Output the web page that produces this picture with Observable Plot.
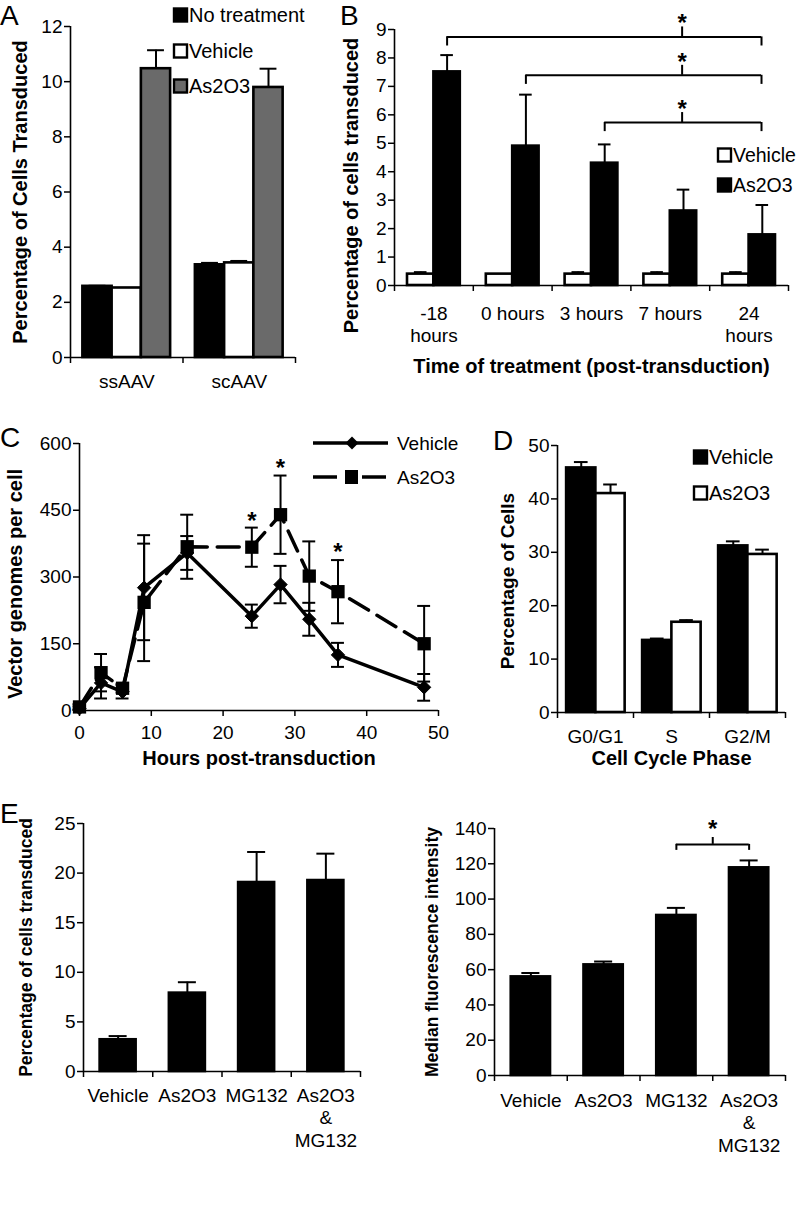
<!DOCTYPE html>
<html><head><meta charset="utf-8">
<script src="https://cdn.jsdelivr.net/npm/d3@7"></script>
<script src="https://cdn.jsdelivr.net/npm/@observablehq/plot@0.6"></script>
<style>
html,body{margin:0;padding:0;background:#fff}
#fig{position:relative;width:800px;height:1218px;overflow:hidden;background:#fff}
#fig svg{position:absolute;overflow:visible}
</style></head><body><div id="fig"></div><script>
// ---------------- Panel A ----------------
const aCategories = ["ssAAV", "scAAV"];
const aSeries = ["No treatment", "Vehicle", "As2O3"];
const aNoTreatment = [2.58, 3.36];
const aNoTreatmentErr = [0.02, 0.07];
const aVehicle = [2.52, 3.43];
const aVehicleErr = [0.0, 0.07];
const aAs2O3 = [10.47, 9.79];
const aAs2O3Err = [0.67, 0.68];
const aTicks = [0, 2, 4, 6, 8, 10, 12];

// ---------------- Panel B ----------------
const bCategories = ["-18\nhours", "0 hours", "3 hours", "7 hours", "24\nhours"];
const bSeries = ["Vehicle", "As2O3"];
const bVehicle = [0.4, 0.4, 0.4, 0.4, 0.4];
const bVehicleErr = [0.07, 0, 0.07, 0.07, 0.07];
const bAs2O3 = [7.51, 4.9, 4.3, 2.62, 1.78];
const bAs2O3Err = [0.59, 1.81, 0.66, 0.75, 1.05];
const bTicks = [0, 1, 2, 3, 4, 5, 6, 7, 8, 9];
const bBracketFrom = [0, 1, 2];
const bBracketTo = [4, 4, 4];
const bBracketLevel = [8.74, 7.39, 5.73];
const bBracketMid = [3.65, 3.65, 3.65];

// ---------------- Panel C ----------------
const cHours = [0, 3, 6, 9, 15, 24, 28, 32, 36, 48];
const cVehicle = [5, 62, 42, 276, 354, 212, 283, 205, 125, 52];
const cVehicleErr = [4, 35, 15, 118, 38, 26, 42, 37, 27, 30];
const cAs2O3 = [8, 85, 50, 243, 368, 367, 440, 302, 267, 150];
const cAs2O3Err = [6, 42, 10, 132, 72, 44, 88, 78, 71, 85];
const cStarHours = [24, 28, 36];
const cStarValues = [439, 558, 370];
const cXTicks = [0, 10, 20, 30, 40, 50];
const cYTicks = [0, 150, 300, 450, 600];

// ---------------- Panel D ----------------
const dPhases = ["G0/G1", "S", "G2/M"];
const dSeries = ["Vehicle", "As2O3"];
const dVehicle = [45.8, 13.5, 31.2];
const dVehicleErr = [1.1, 0.35, 0.85];
const dAs2O3 = [41.0, 16.9, 29.6];
const dAs2O3Err = [1.7, 0.4, 0.9];
const dTicks = [0, 10, 20, 30, 40, 50];

// ---------------- Panel E ----------------
const eTreatments = ["Vehicle", "As2O3", "MG132", "As2O3\n&\nMG132"];
const ePercent = [3.2, 7.9, 19.05, 19.25];
const ePercentErr = [0.37, 1.1, 3.08, 2.71];
const ePercentTicks = [0, 5, 10, 15, 20, 25];
const eMFI = [55.9, 62.7, 90.7, 117.7];
const eMFIErr = [2.2, 1.9, 4.3, 4.2];
const eMFITicks = [0, 20, 40, 60, 80, 100, 120, 140];
const eBracketFrom = [2];
const eBracketTo = [3];
const eBracketLevel = [131];

// ---------------- helpers ----------------
const FONT = "'Liberation Sans', Arial, Helvetica, sans-serif";
const fig = document.getElementById("fig");
const aColors = {"No treatment": "#000000", "Vehicle": "#ffffff", "As2O3": "#6a6a6a"};

function makePlot({L, T, R, B, x, y, marks, ml = 70, mt = 40, mr = 15, mb = 95}) {
  const svg = Plot.plot({
    width: ml + (R - L) + mr, height: mt + (B - T) + mb,
    marginLeft: ml, marginTop: mt, marginRight: mr, marginBottom: mb,
    style: {background: "transparent", fontFamily: FONT, fontSize: "19px", color: "black", overflow: "visible"},
    x, y, marks
  });
  svg.style.position = "absolute";
  svg.style.left = (L - ml) + "px";
  svg.style.top = (T - mt) + "px";
  svg.style.maxWidth = "none";
  fig.appendChild(svg);
}
function yAxisMarks(ticks) {
  return [
    Plot.axisY({ticks, tickSize: 6, tickPadding: 2, label: null, strokeWidth: 1.5, fontSize: 19}),
    Plot.ruleX([0], {strokeWidth: 1.6})
  ];
}
function catAxisMarks(n, labels, dy, fontSize = 19) {
  return [
    Plot.ruleY([0], {strokeWidth: 1.6}),
    Plot.axisX({ticks: d3.range(n + 1), tickSize: 6, tickFormat: () => "", label: null, strokeWidth: 1.5}),
    Plot.text(labels.map((t, i) => ({t, c: i + 0.5})), {x: "c", text: "t", frameAnchor: "bottom", lineAnchor: "top", dy, lineHeight: 1.2, fontSize})
  ];
}
function yTitle(title, dx, dy, fontSize = 20) {
  return Plot.text([title], {text: d => d, frameAnchor: "left", textAnchor: "middle", lineAnchor: "middle", rotate: -90, dx, dy, fontWeight: "bold", fontSize});
}
function xTitle(title, dy, fontSize = 20) {
  return Plot.text([title], {text: d => d, frameAnchor: "bottom", textAnchor: "middle", lineAnchor: "middle", dy, fontWeight: "bold", fontSize});
}
function barRows(categories, seriesNames, values, errors, start, width) {
  const rows = [];
  categories.forEach((c, i) => seriesNames.forEach((s, j) => {
    const x1 = i + start + j * width;
    rows.push({cat: c, series: s, value: values[j][i], top: values[j][i] + errors[j][i], err: errors[j][i], x1, x2: x1 + width, xc: x1 + width / 2});
  }));
  return rows;
}
function barMarks(rows, cap, fillOpt) {
  return [
    Plot.rectY(rows, {x1: "x1", x2: "x2", y1: 0, y2: "value", fill: fillOpt, stroke: "black", strokeWidth: 2.6}),
    Plot.ruleX(rows.filter(d => d.err > 0), {x: "xc", y1: "value", y2: "top", strokeWidth: 2}),
    Plot.ruleY(rows.filter(d => d.err > 0), {y: "top", x1: d => d.xc - cap, x2: d => d.xc + cap, strokeWidth: 2})
  ];
}

// ---------------- Panel A ----------------
{
  const rows = barRows(aCategories, aSeries, [aNoTreatment, aVehicle, aAs2O3], [aNoTreatmentErr, aVehicleErr, aAs2O3Err], 0.11, 0.26);
  makePlot({L: 70, T: 26, R: 295, B: 357,
    x: {type: "linear", domain: [0, aCategories.length]},
    y: {domain: [0, 12]},
    marks: [
      ...barMarks(rows, 0.075, d => aColors[d.series]),
      ...yAxisMarks(aTicks),
      ...catAxisMarks(aCategories.length, aCategories, 14),
      yTitle("Percentage of Cells Transduced", -50, 0)
    ]
  });
}
// ---------------- Panel B ----------------
{
  const bColors = {"Vehicle": "#ffffff", "As2O3": "#000000"};
  const rows = barRows(bCategories, bSeries, [bVehicle, bAs2O3], [bVehicleErr, bAs2O3Err], 0.165, 0.335);
  const br = bBracketFrom.map((f, k) => ({
    from: f + 0.165 + 1.5 * 0.335, to: bBracketTo[k] + 0.165 + 1.5 * 0.335 - 0.01,
    level: bBracketLevel[k], mid: bBracketMid[k]
  }));
  makePlot({L: 394, T: 29, R: 788, B: 285,
    x: {type: "linear", domain: [0, bCategories.length]},
    y: {domain: [0, 9]},
    marks: [
      ...barMarks(rows, 0.08, d => bColors[d.series]),
      ...yAxisMarks(bTicks),
      ...catAxisMarks(bCategories.length, bCategories, 18),
      yTitle("Percentage of cells transduced", -43, 28),
      xTitle("Time of treatment (post-transduction)", 81),
      Plot.ruleY(br, {y: "level", x1: "from", x2: "to", strokeWidth: 2}),
      Plot.ruleX(br, {x: "from", y1: d => d.level - 0.32, y2: "level", strokeWidth: 2}),
      Plot.ruleX(br, {x: "to", y1: d => d.level - 0.32, y2: "level", strokeWidth: 2}),
      Plot.ruleX(br, {x: "mid", y1: "level", y2: d => d.level + 0.35, strokeWidth: 2}),
      Plot.text(br, {x: "mid", y: d => d.level + 0.68, text: () => "*", fontSize: 24, fontWeight: "bold", dy: 6})
    ]
  });
}
// ---------------- Panel C ----------------
{
  const veh = cHours.map((h, i) => ({h, v: cVehicle[i], e: cVehicleErr[i]}));
  const ars = cHours.map((h, i) => ({h, v: cAs2O3[i], e: cAs2O3Err[i]}));
  const cap = 0.9;
  const errMarks = (data) => [
    Plot.ruleX(data, {x: "h", y1: d => d.v - d.e, y2: d => d.v + d.e, strokeWidth: 2}),
    Plot.ruleY(data, {y: d => d.v + d.e, x1: d => d.h - cap, x2: d => d.h + cap, strokeWidth: 2}),
    Plot.ruleY(data, {y: d => d.v - d.e, x1: d => d.h - cap, x2: d => d.h + cap, strokeWidth: 2})
  ];
  makePlot({L: 79, T: 443, R: 438, B: 710,
    x: {domain: [0, 50]},
    y: {domain: [0, 600]},
    marks: [
      Plot.line(veh, {x: "h", y: "v", stroke: "black", strokeWidth: 3.5}),
      Plot.line(ars, {x: "h", y: "v", stroke: "black", strokeWidth: 3.5, strokeDasharray: "22,10"}),
      ...errMarks(veh),
      ...errMarks(ars),
      Plot.dot(veh, {x: "h", y: "v", symbol: "diamond2", r: 6, fill: "black", stroke: "black", strokeWidth: 1}),
      Plot.dot(ars, {x: "h", y: "v", symbol: "square", r: 7.5, fill: "black"}),
      Plot.text(cStarHours.map((h, i) => ({h, v: cStarValues[i]})), {x: "h", y: "v", text: () => "*", fontSize: 24, fontWeight: "bold", dy: 6}),
      Plot.ruleY([0], {strokeWidth: 1.6}),
      Plot.axisX({ticks: cXTicks, tickSize: 6, tickPadding: 9, label: null, strokeWidth: 1.5, fontSize: 19}),
      ...yAxisMarks(cYTicks),
      yTitle("Vector genomes per cell", -64, 7),
      xTitle("Hours post-transduction", 48)
    ]
  });
}
// ---------------- Panel D ----------------
{
  const dColors = {"Vehicle": "#000000", "As2O3": "#ffffff"};
  const rows = barRows(dPhases, dSeries, [dVehicle, dAs2O3], [dVehicleErr, dAs2O3Err], 0.12, 0.385);
  makePlot({L: 557, T: 445, R: 785, B: 712,
    x: {type: "linear", domain: [0, dPhases.length]},
    y: {domain: [0, 50]},
    marks: [
      ...barMarks(rows, 0.09, d => dColors[d.series]),
      ...yAxisMarks(dTicks),
      ...catAxisMarks(dPhases.length, dPhases, 14),
      yTitle("Percentage of Cells", -50, 2, 19),
      xTitle("Cell Cycle Phase", 46)
    ]
  });
}
// ---------------- Panel E (left) ----------------
{
  const rows = barRows(eTreatments, ["Percent"], [ePercent], [ePercentErr], 0.24, 0.52);
  makePlot({L: 83, T: 823, R: 360, B: 1071,
    x: {type: "linear", domain: [0, eTreatments.length]},
    y: {domain: [0, 25]},
    marks: [
      ...barMarks(rows, 0.13, "black"),
      ...yAxisMarks(ePercentTicks),
      ...catAxisMarks(eTreatments.length, eTreatments, 14),
      yTitle("Percentage of cells transduced", -57, 0, 17.5)
    ]
  });
}
// ---------------- Panel E (right) ----------------
{
  const rows = barRows(eTreatments, ["MFI"], [eMFI], [eMFIErr], 0.23, 0.54);
  const br = eBracketFrom.map((f, k) => ({from: f + 0.5, to: eBracketTo[k] + 0.5, level: eBracketLevel[k], mid: (f + eBracketTo[k]) / 2 + 0.5}));
  makePlot({L: 494, T: 828, R: 785, B: 1075,
    x: {type: "linear", domain: [0, eTreatments.length]},
    y: {domain: [0, 140]},
    marks: [
      ...barMarks(rows, 0.124, "black"),
      ...yAxisMarks(eMFITicks),
      ...catAxisMarks(eTreatments.length, eTreatments, 15),
      yTitle("Median fluorescence intensity", -62, 0, 17.5),
      Plot.ruleY(br, {y: "level", x1: "from", x2: "to", strokeWidth: 2}),
      Plot.ruleX(br, {x: "from", y1: d => d.level - 3.4, y2: "level", strokeWidth: 2}),
      Plot.ruleX(br, {x: "to", y1: d => d.level - 3.4, y2: "level", strokeWidth: 2}),
      Plot.ruleX(br, {x: "mid", y1: "level", y2: d => d.level + 3.9, strokeWidth: 2}),
      Plot.text(br, {x: "mid", y: d => d.level + 12, text: () => "*", fontSize: 24, fontWeight: "bold", dy: 6})
    ]
  });
}
// ---------------- overlay: panel letters and legends ----------------
{
  const ov = d3.select(fig).append("svg").attr("width", 800).attr("height", 1218)
    .style("left", "0px").style("top", "0px").style("font-family", FONT).style("pointer-events", "none");
  const letters = [["A", 0, 25], ["B", 340, 25], ["C", 0, 447], ["D", 493, 450], ["E", 0, 823]];
  ov.selectAll("text.letter").data(letters).join("text").attr("class", "letter")
    .attr("x", d => d[1]).attr("y", d => d[2]).attr("font-size", 28).text(d => d[0]);
  function squareLegend(items, x, ys, fontSize) {
    items.forEach(([label, fill], k) => {
      ov.append("rect").attr("x", x).attr("y", ys[k] - 6.5).attr("width", 13).attr("height", 13)
        .attr("fill", fill).attr("stroke", "black").attr("stroke-width", 2.4);
      ov.append("text").attr("x", x + 15).attr("y", ys[k] + 7).attr("font-size", fontSize).text(label);
    });
  }
  squareLegend(aSeries.map(s => [s, aColors[s]]), 174, [15, 51, 86], 20);
  squareLegend([["Vehicle", "#ffffff"], ["As2O3", "#000000"]], 718, [155, 185], 19.5);
  squareLegend([["Vehicle", "#000000"], ["As2O3", "#ffffff"]], 694, [457, 493], 20);
  // C legend
  ov.append("line").attr("x1", 313).attr("x2", 388).attr("y1", 443).attr("y2", 443).attr("stroke", "black").attr("stroke-width", 3.5);
  ov.append("path").attr("d", "M352,436.5L358.5,443L352,449.5L345.5,443Z").attr("fill", "black");
  ov.append("text").attr("x", 397).attr("y", 450).attr("font-size", 19).text("Vehicle");
  ov.append("line").attr("x1", 313).attr("x2", 337).attr("y1", 477).attr("y2", 477).attr("stroke", "black").attr("stroke-width", 3.5);
  ov.append("line").attr("x1", 362).attr("x2", 386).attr("y1", 477).attr("y2", 477).attr("stroke", "black").attr("stroke-width", 3.5);
  ov.append("rect").attr("x", 345).attr("y", 470).attr("width", 13).attr("height", 14).attr("fill", "black");
  ov.append("text").attr("x", 397).attr("y", 484).attr("font-size", 19).text("As2O3");
}
</script></body></html>
